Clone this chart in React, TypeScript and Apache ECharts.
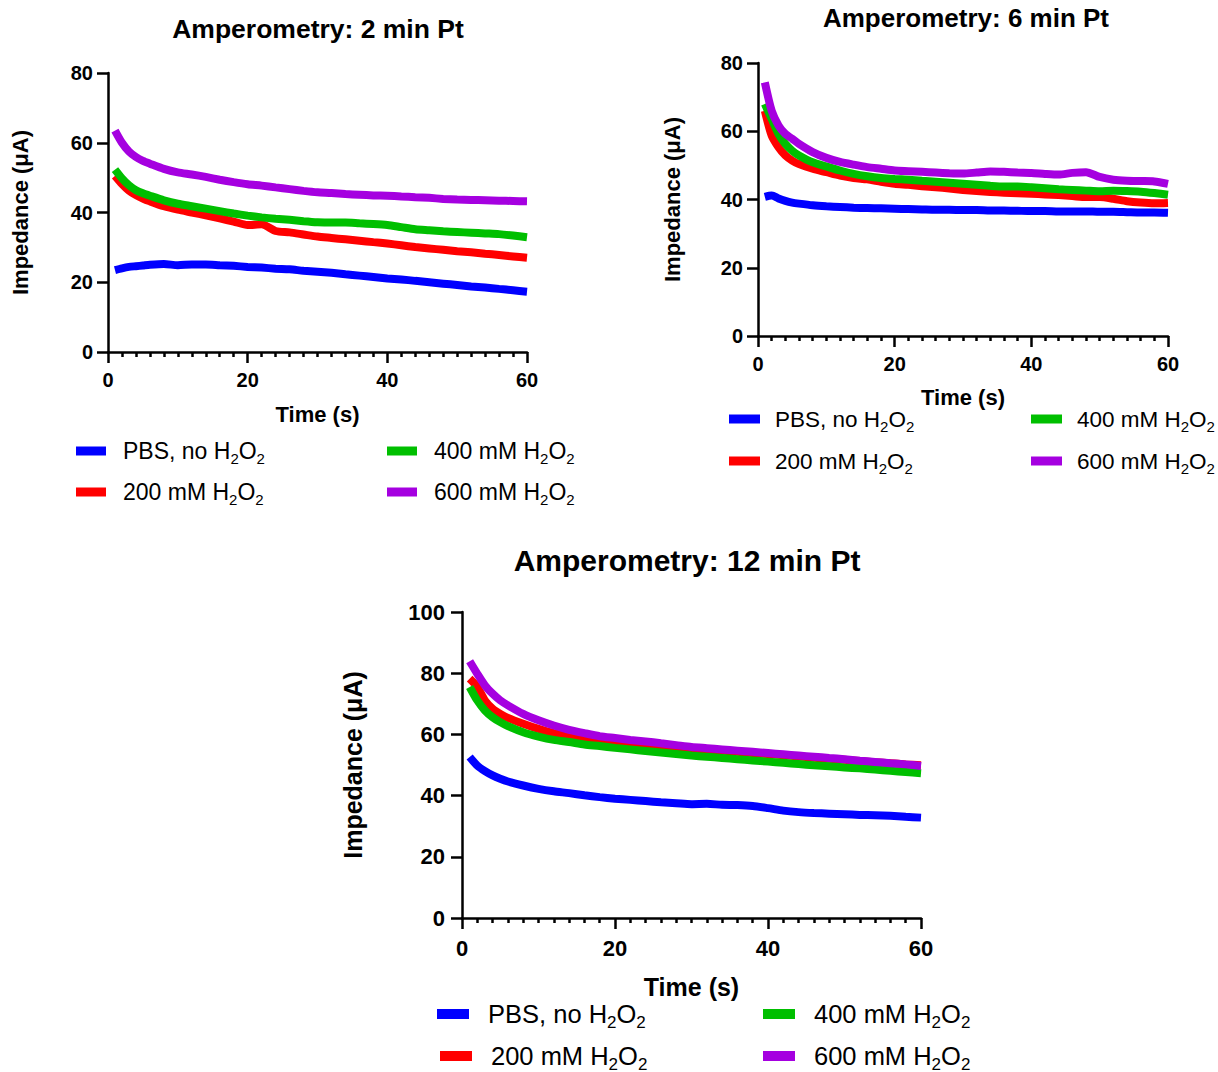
import { useEffect, useRef } from "react";
import * as echarts from "echarts";

const TIME = [1, 2, 3, 4, 5, 6, 8, 10, 12, 14, 16, 18, 20, 22, 24, 26, 28, 30, 32, 34, 36, 38, 40, 42, 44, 46, 48, 50, 52, 54, 56, 58, 60];

const SERIES_NAMES = ["PBS, no H2O2", "200 mM H2O2", "400 mM H2O2", "600 mM H2O2"];
const LEGEND_RICH = ["{n|PBS, no H}{s|2}{n|O}{s|2}", "{n|200 mM H}{s|2}{n|O}{s|2}", "{n|400 mM H}{s|2}{n|O}{s|2}", "{n|600 mM H}{s|2}{n|O}{s|2}"];
const COLORS = ["#0000FF", "#FF0000", "#00BF00", "#A500E0"];

const TITLES = ["Amperometry: 2 min Pt", "Amperometry: 6 min Pt", "Amperometry: 12 min Pt"];
const X_NAME = "Time (s)";
const Y_NAME = "Impedance (\u03bcA)";
const Y_MAX = [80, 80, 100];

// 2 min Pt
const PT2_PBS = [23.5, 24, 24.4, 24.6, 24.8, 25, 25.2, 24.9, 25.1, 25.1, 24.9, 24.7, 24.4, 24.2, 23.9, 23.7, 23.3, 23.0, 22.7, 22.3, 21.9, 21.5, 21.1, 20.8, 20.4, 20.0, 19.6, 19.2, 18.8, 18.5, 18.1, 17.7, 17.3];
const PT2_200 = [50.5, 48.2, 46.3, 45, 44, 43.2, 41.8, 40.8, 40, 39.2, 38.3, 37.4, 36.4, 36.6, 34.7, 34.3, 33.7, 33.1, 32.7, 32.3, 31.9, 31.5, 31.1, 30.6, 30.1, 29.7, 29.3, 28.9, 28.6, 28.2, 27.8, 27.4, 27.0];
const PT2_400 = [52.3, 49.8, 47.8, 46.4, 45.5, 44.8, 43.5, 42.5, 41.8, 41.1, 40.4, 39.7, 39.1, 38.6, 38.2, 37.9, 37.5, 37.2, 37.1, 37.1, 36.9, 36.7, 36.4, 35.8, 35.2, 34.9, 34.6, 34.4, 34.2, 34.0, 33.8, 33.4, 32.9];
const PT2_600 = [63.5, 60, 57.5, 55.9, 54.8, 54, 52.5, 51.5, 50.9, 50.2, 49.4, 48.7, 48.1, 47.7, 47.2, 46.7, 46.2, 45.8, 45.6, 45.3, 45.1, 44.9, 44.8, 44.6, 44.4, 44.2, 43.9, 43.7, 43.6, 43.5, 43.4, 43.3, 43.2];

// 6 min Pt
const PT6_PBS = [40.8, 41.2, 40.3, 39.6, 39.1, 38.8, 38.3, 38, 37.8, 37.6, 37.5, 37.4, 37.3, 37.2, 37.1, 37.0, 37.0, 36.9, 36.9, 36.8, 36.8, 36.7, 36.6, 36.6, 36.5, 36.5, 36.5, 36.4, 36.4, 36.3, 36.2, 36.2, 36.1];
const PT6_200 = [66, 58.7, 55.3, 52.9, 51.4, 50.4, 49, 48, 47, 46.3, 45.9, 45.2, 44.6, 44.3, 43.9, 43.6, 43.2, 42.8, 42.5, 42.2, 42.0, 41.8, 41.7, 41.5, 41.3, 41.0, 40.7, 40.7, 40.2, 39.5, 39.1, 38.9, 39.0];
const PT6_400 = [68, 63.6, 59.2, 56.3, 54.3, 52.9, 50.9, 49.7, 48.5, 47.5, 46.8, 46.3, 46, 45.8, 45.5, 45.2, 44.9, 44.6, 44.3, 44.0, 43.8, 43.8, 43.6, 43.3, 43.0, 42.8, 42.6, 42.4, 42.6, 42.5, 42.3, 41.9, 41.4];
const PT6_600 = [74.3, 66, 61.7, 59.2, 57.8, 56.3, 53.9, 52.2, 51, 50.2, 49.5, 49, 48.5, 48.3, 48.1, 47.9, 47.7, 47.6, 47.9, 48.2, 48.1, 47.9, 47.8, 47.5, 47.3, 47.8, 48.0, 46.6, 45.8, 45.5, 45.4, 45.3, 44.6];

// 12 min Pt
const PT12_PBS = [52.6, 49.8, 48, 46.6, 45.5, 44.6, 43.3, 42.2, 41.4, 40.8, 40.1, 39.5, 39.0, 38.6, 38.2, 37.8, 37.5, 37.2, 37.3, 37.0, 36.9, 36.6, 35.9, 35.1, 34.6, 34.3, 34.1, 33.9, 33.7, 33.6, 33.4, 33.1, 32.8];
const PT12_200 = [78.2, 75.5, 71.1, 68.4, 66.7, 65.4, 63.5, 61.8, 60.4, 59.7, 58.9, 58.2, 57.6, 57.1, 56.6, 56.2, 55.8, 55.4, 55.0, 54.7, 54.3, 53.9, 53.6, 53.2, 52.8, 52.4, 52.0, 51.7, 51.3, 50.9, 50.6, 50.2, 49.9];
const PT12_400 = [75.5, 71.1, 67.8, 65.6, 64, 62.7, 60.7, 59.3, 58.2, 57.5, 56.7, 56.2, 55.6, 55.1, 54.6, 54.1, 53.6, 53.1, 52.7, 52.3, 51.9, 51.5, 51.1, 50.7, 50.3, 49.9, 49.6, 49.2, 48.9, 48.5, 48.1, 47.7, 47.3];
const PT12_600 = [83.9, 79.8, 76, 73.3, 71.1, 69.5, 66.7, 64.6, 62.9, 61.5, 60.4, 59.4, 58.8, 58.2, 57.7, 57.1, 56.5, 55.9, 55.5, 55.1, 54.7, 54.3, 53.9, 53.5, 53.1, 52.7, 52.3, 51.9, 51.4, 51.0, 50.6, 50.2, 49.7];

const PANELS = [
  [PT2_PBS, PT2_200, PT2_400, PT2_600],
  [PT6_PBS, PT6_200, PT6_400, PT6_600],
  [PT12_PBS, PT12_200, PT12_400, PT12_600],
];

const FONT = "'Liberation Sans', Arial, Helvetica, sans-serif";

// layout (pixels)
const LAYOUT = [
  { grid: { left: 108, top: 73, width: 419, height: 279 }, title: { x: 318, y: 15, size: 26.5 }, tick: 20, name: 22, xMargin: 18, yMargin: 15, xGap: 51, yGap: 77,
    legend: { cols: [76, 387], col1b: 76, rows: [451, 492], sw: 30, sh: 9, tx: 47, size: 23 } },
  { grid: { left: 758, top: 63, width: 410, height: 273 }, title: { x: 966, y: 5, size: 26 }, tick: 20, name: 22, xMargin: 18, yMargin: 15, xGap: 50, yGap: 75,
    legend: { cols: [729, 1031], col1b: 729, rows: [419, 461], sw: 31, sh: 9, tx: 46, size: 22.5 } },
  { grid: { left: 462, top: 612, width: 459, height: 306 }, title: { x: 687, y: 545, size: 30 }, tick: 22, name: 25, xMargin: 19, yMargin: 17, xGap: 56, yGap: 97,
    legend: { cols: [437, 763], col1b: 440, rows: [1014, 1056], sw: 32, sh: 10, tx: 51, size: 25.5 } },
];

function buildOption() {
  const black = "#000";
  const grids: any[] = [];
  const xAxes: any[] = [];
  const yAxes: any[] = [];
  const titles: any[] = [];
  const series: any[] = [];
  const graphics: any[] = [];

  LAYOUT.forEach((L, i) => {
    grids.push({ ...L.grid, containLabel: false });
    titles.push({
      text: TITLES[i],
      left: L.title.x,
      top: L.title.y,
      textAlign: "center",
      padding: 0,
      textStyle: { fontFamily: FONT, fontWeight: "bold", fontSize: L.title.size, color: black },
    });
    const axisLine = { show: true, onZero: false, lineStyle: { color: black, width: 2.5 } };
    xAxes.push({
      gridIndex: i,
      type: "value",
      min: 0,
      max: 60,
      interval: 20,
      axisLine,
      axisTick: { show: true, length: 11, lineStyle: { color: black, width: 2.5 } },
      minorTick: { show: true, splitNumber: 10, length: 5, lineStyle: { color: black, width: 2.5 } },
      splitLine: { show: false },
      minorSplitLine: { show: false },
      axisLabel: { fontFamily: FONT, fontWeight: "bold", fontSize: L.tick, color: black, margin: L.xMargin },
      name: X_NAME,
      nameLocation: "middle",
      nameGap: L.xGap,
      nameTextStyle: { fontFamily: FONT, fontWeight: "bold", fontSize: L.name, color: black },
    });
    yAxes.push({
      gridIndex: i,
      type: "value",
      min: 0,
      max: Y_MAX[i],
      interval: 20,
      axisLine,
      axisTick: { show: true, length: 11, lineStyle: { color: black, width: 2.5 } },
      splitLine: { show: false },
      axisLabel: { fontFamily: FONT, fontWeight: "bold", fontSize: L.tick, color: black, margin: L.yMargin },
      name: Y_NAME,
      nameLocation: "middle",
      nameGap: L.yGap,
      nameTextStyle: { fontFamily: FONT, fontWeight: "bold", fontSize: L.name, color: black },
    });
    PANELS[i].forEach((vals, k) => {
      series.push({
        type: "line",
        name: SERIES_NAMES[k],
        xAxisIndex: i,
        yAxisIndex: i,
        data: TIME.map((t, j) => [t, vals[j]]),
        symbol: "none",
        showSymbol: false,
        smooth: 0.25,
        lineStyle: { width: 8, color: COLORS[k], cap: "butt" },
        itemStyle: { color: COLORS[k] },
        z: 2 + k,
      });
    });
    const lg = L.legend;
    const pos = [
      [lg.cols[0], lg.rows[0]],
      [lg.col1b, lg.rows[1]],
      [lg.cols[1], lg.rows[0]],
      [lg.cols[1], lg.rows[1]],
    ];
    pos.forEach(([px, py], k) => {
      graphics.push({
        type: "rect",
        shape: { x: px, y: py - lg.sh / 2, width: lg.sw, height: lg.sh },
        style: { fill: COLORS[k] },
      });
      graphics.push({
        type: "text",
        x: px + lg.tx,
        y: py,
        style: {
          text: LEGEND_RICH[k],
          fill: black,
          fontFamily: FONT,
          fontSize: lg.size,
          verticalAlign: "middle",
          align: "left",
          rich: {
            n: { fontFamily: FONT, fontSize: lg.size, lineHeight: Math.round(lg.size * 1.3), fill: black },
            s: { fontFamily: FONT, fontSize: Math.round(lg.size * 0.66), lineHeight: Math.round(lg.size * 0.66), verticalAlign: "bottom", fill: black },
          },
        },
      });
    });
  });

  return {
    animation: false,
    backgroundColor: "#fff",
    title: titles,
    grid: grids,
    xAxis: xAxes,
    yAxis: yAxes,
    series,
    graphic: graphics,
  };
}

export default function App() {
  const ref = useRef<HTMLDivElement>(null);
  useEffect(() => {
    if (!ref.current) return;
    const chart = echarts.init(ref.current, undefined, { renderer: "svg" });
    chart.setOption(buildOption() as any);
    return () => chart.dispose();
  }, []);
  return <div ref={ref} style={{ position: "absolute", left: 0, top: 0, width: 1218, height: 1072, background: "#fff" }} />;
}
